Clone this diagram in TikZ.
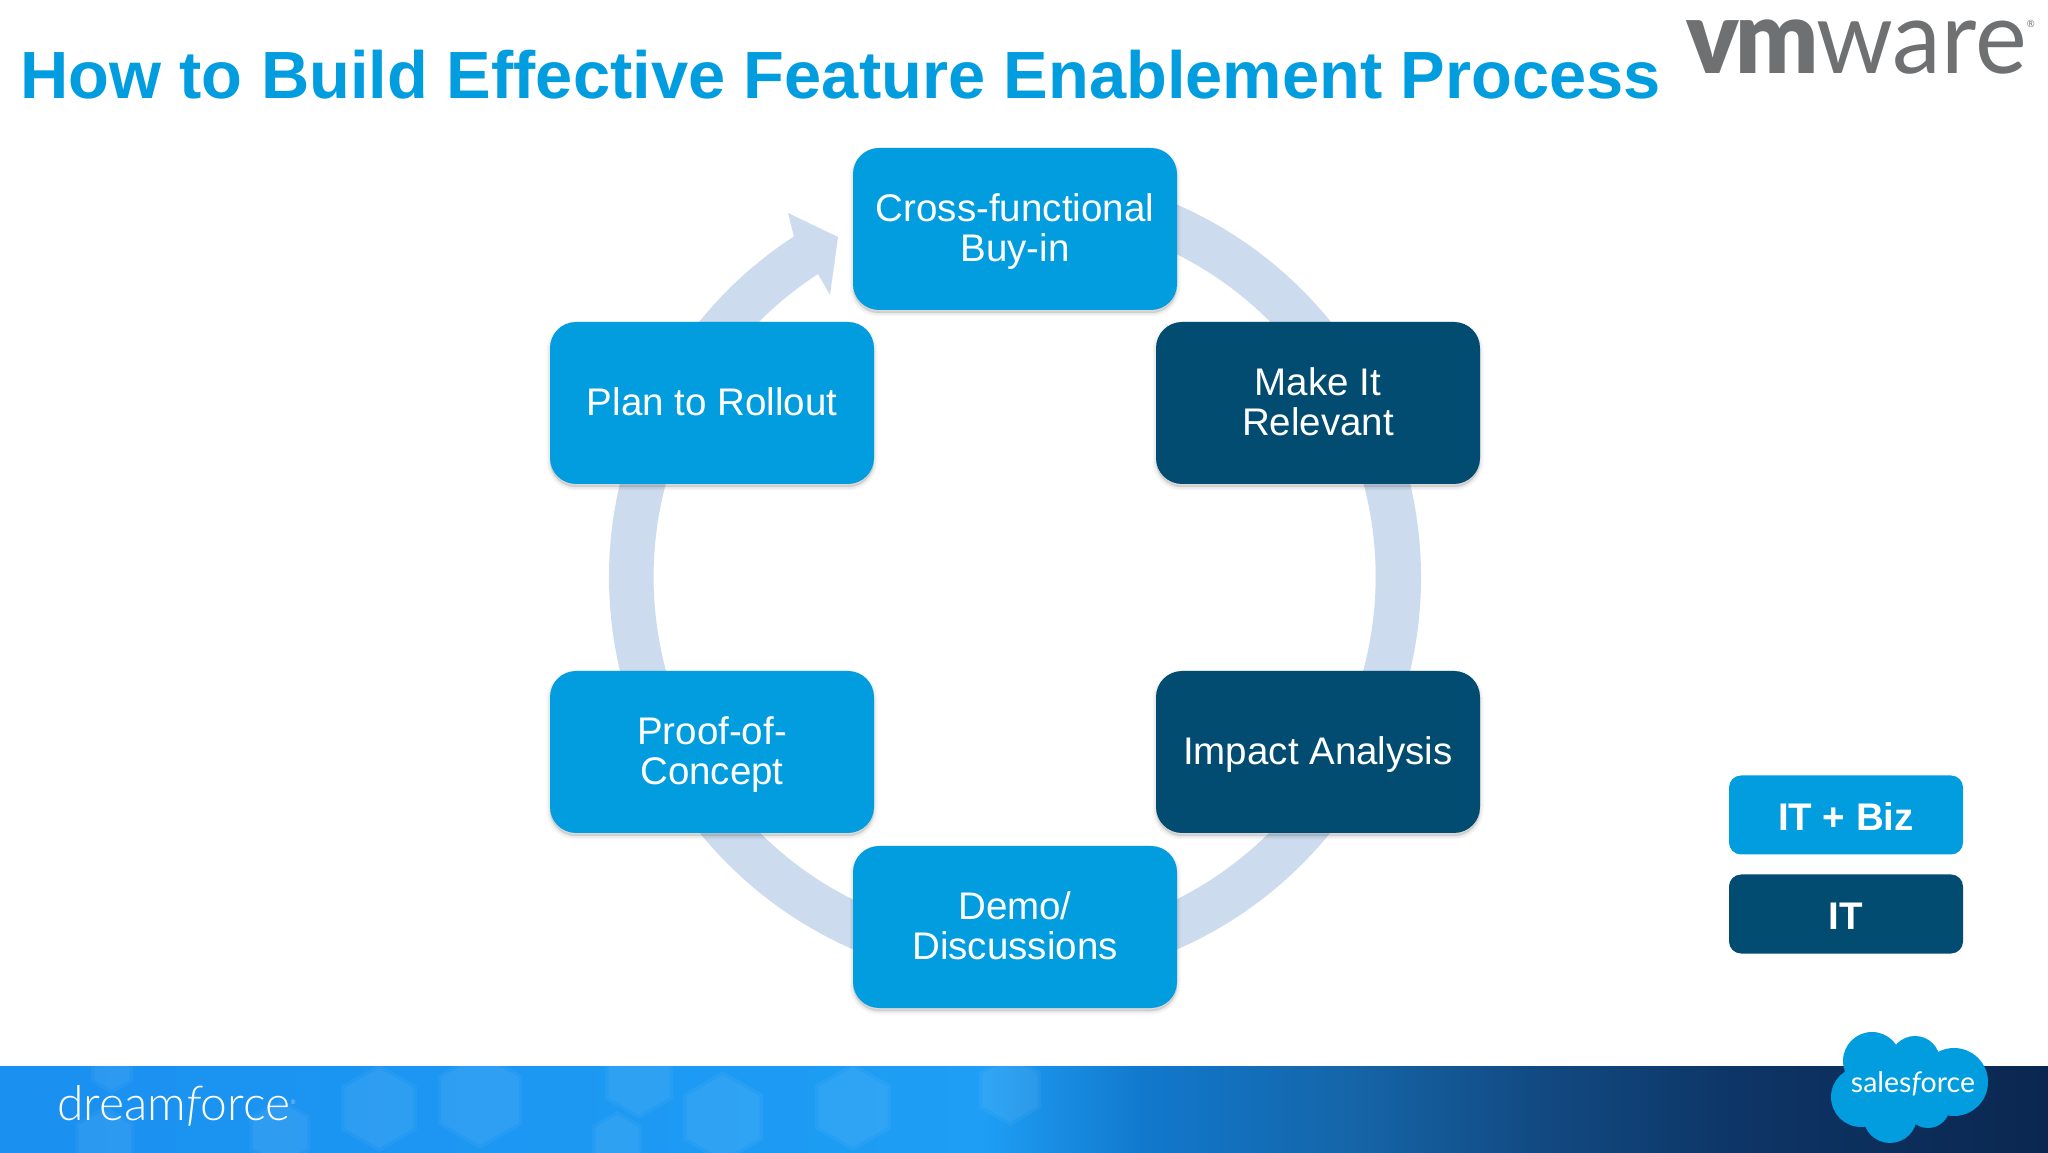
\documentclass[tikz,border=0pt]{standalone}
\usepackage{fontspec}
\setmainfont{Liberation Sans}
\newfontfamily\logofont{Lato}
\newfontfamily\logolight{Lato Light}
\newfontfamily\logoblack{Lato Black}
\usepackage{tikz}
\usetikzlibrary{shapes.geometric}

\definecolor{bizblue}{HTML}{019DDF}
\definecolor{itnavy}{HTML}{014C70}
\definecolor{ringblue}{HTML}{CCDCEE}
\definecolor{logogray}{HTML}{6F7072}
\definecolor{bannerA}{HTML}{1A90F0}
\definecolor{bannerB}{HTML}{1E9EF5}
\definecolor{bannerC}{HTML}{1178CC}
\definecolor{bannerD}{HTML}{1565A8}
\definecolor{bannerE}{HTML}{124A82}
\definecolor{bannerF}{HTML}{0D3566}
\definecolor{bannerG}{HTML}{0B2750}

% the box of the path fills the middle 50bp of the shading
\pgfdeclarehorizontalshading{bannershade}{100bp}{
  color(0bp)=(bannerA); color(25bp)=(bannerA); color(49bp)=(bannerB); color(53bp)=(bannerC);
  color(58bp)=(bannerD); color(62.5bp)=(bannerE); color(67.5bp)=(bannerF); color(75bp)=(bannerG); color(100bp)=(bannerG)}

% same height for every text row
\newcommand{\rowstrut}{\rule[-7.5pt]{0pt}{40pt}}

\tikzset{
  softshade/.style={preaction={draw=black, fill=black, line width=#1, opacity=.035, transform canvas={yshift=-3pt}}},
  stepbox/.style={rounded corners=26pt, minimum width=324pt, minimum height=162pt, align=center,
    text=white, font=\fontsize{38.5}{40}\selectfont,
    softshade=7pt, softshade=4pt, softshade=1pt},
  legendbox/.style={rounded corners=12pt, minimum width=234pt, minimum height=79pt,
    text height=33pt, text depth=2pt,
    text=white, font=\fontsize{38.5}{44}\selectfont\bfseries},
  hexspot/.style={fill=white, opacity=.045, regular polygon, regular polygon sides=6,
    shape border rotate=30, inner sep=0pt}
}

\begin{document}
\begin{tikzpicture}[x=1pt, y=1pt]
  \def\W{2048} \def\H{1152}
  \useasboundingbox (0,0) rectangle (\W,\H);
  \fill[white] (0,0) rectangle (\W,\H);

  % banner
  \shade[shading=bannershade] (0,0) rectangle (\W,86);
  \begin{scope}
    \clip (0,0) rectangle (\W,86);
    \foreach \hx/\hy/\hs in {379/44/88, 480/52/98, 639/72/78, 723/35/92, 853/45/88, 1010/62/72, 112/82/48, 105/12/68, 280/19/70, 617/12/58}{
      \node[hexspot, minimum size=\hs pt] at (\hx,\hy) {};
      \node[hexspot, minimum size=\hs pt-8pt] at (\hx,\hy) {};
    }
  \end{scope}

  % ring behind the boxes
  \fill[ringblue] ([shift={(1015,575)}]95:406) arc (95:-237:406)
     -- (788,939) -- (838,915) -- (830,857) -- (818,878)
     arc (-237:90:361) -- cycle;

  % title
  \node[anchor=west, text=bizblue, font=\fontsize{66.8}{74}\selectfont\bfseries, inner sep=0pt] (title) at (20,1077)
     {How to Build Effective Feature Enablement Process};

  % process steps
  \node[stepbox, fill=bizblue] (buyin) at (1015,923) {\rowstrut Cross-functional\\\rowstrut Buy-in};
  \node[stepbox, fill=itnavy] (relevant) at (1318,749) {\rowstrut Make It\\\rowstrut Relevant};
  \node[stepbox, fill=itnavy] (impact) at (1318,400) {\rowstrut Impact Analysis};
  \node[stepbox, fill=bizblue] (demo) at (1015,225) {\rowstrut Demo/\\\rowstrut Discussions};
  \node[stepbox, fill=bizblue] (poc) at (712,400) {\rowstrut Proof-of-\\\rowstrut Concept};
  \node[stepbox, fill=bizblue] (rollout) at (712,749) {\rowstrut Plan to Rollout};

  % legend
  \node[legendbox, fill=bizblue] (itbiz) at (1846,337) {IT + Biz};
  \node[legendbox, fill=itnavy] (itonly) at (1846,238) {IT};

  % logos
  \node[anchor=base west, text=logogray, inner sep=0pt, xscale=.96, transform shape, font=\logofont\fontsize{102}{106}\selectfont] (vmware) at (1686,1078)
     {{\logoblack v\kern-4pt m}\kern-2pt ware\raisebox{46pt}{\fontsize{10}{10}\selectfont ®}};
  \node[anchor=west, text=white, inner sep=0pt, font=\logolight\fontsize{48}{50}\selectfont] (dreamforce) at (57,46)
     {dream{\itshape f}orce\raisebox{16pt}{\fontsize{6}{6}\selectfont ®}};

  % cloud
  \fill[bizblue] (1872,91) circle (29) (1915,91) circle (25) (1954,70) circle (34)
     (1861,55) circle (30) (1890,36) circle (27) (1928,46) circle (22) (1905,67) circle (38);
  \node[text=white, inner sep=0pt, font=\logofont\fontsize{28.5}{30}\selectfont] (salesforce) at (1913,68)
     {sales{\itshape f}orce};
\end{tikzpicture}
\end{document}
